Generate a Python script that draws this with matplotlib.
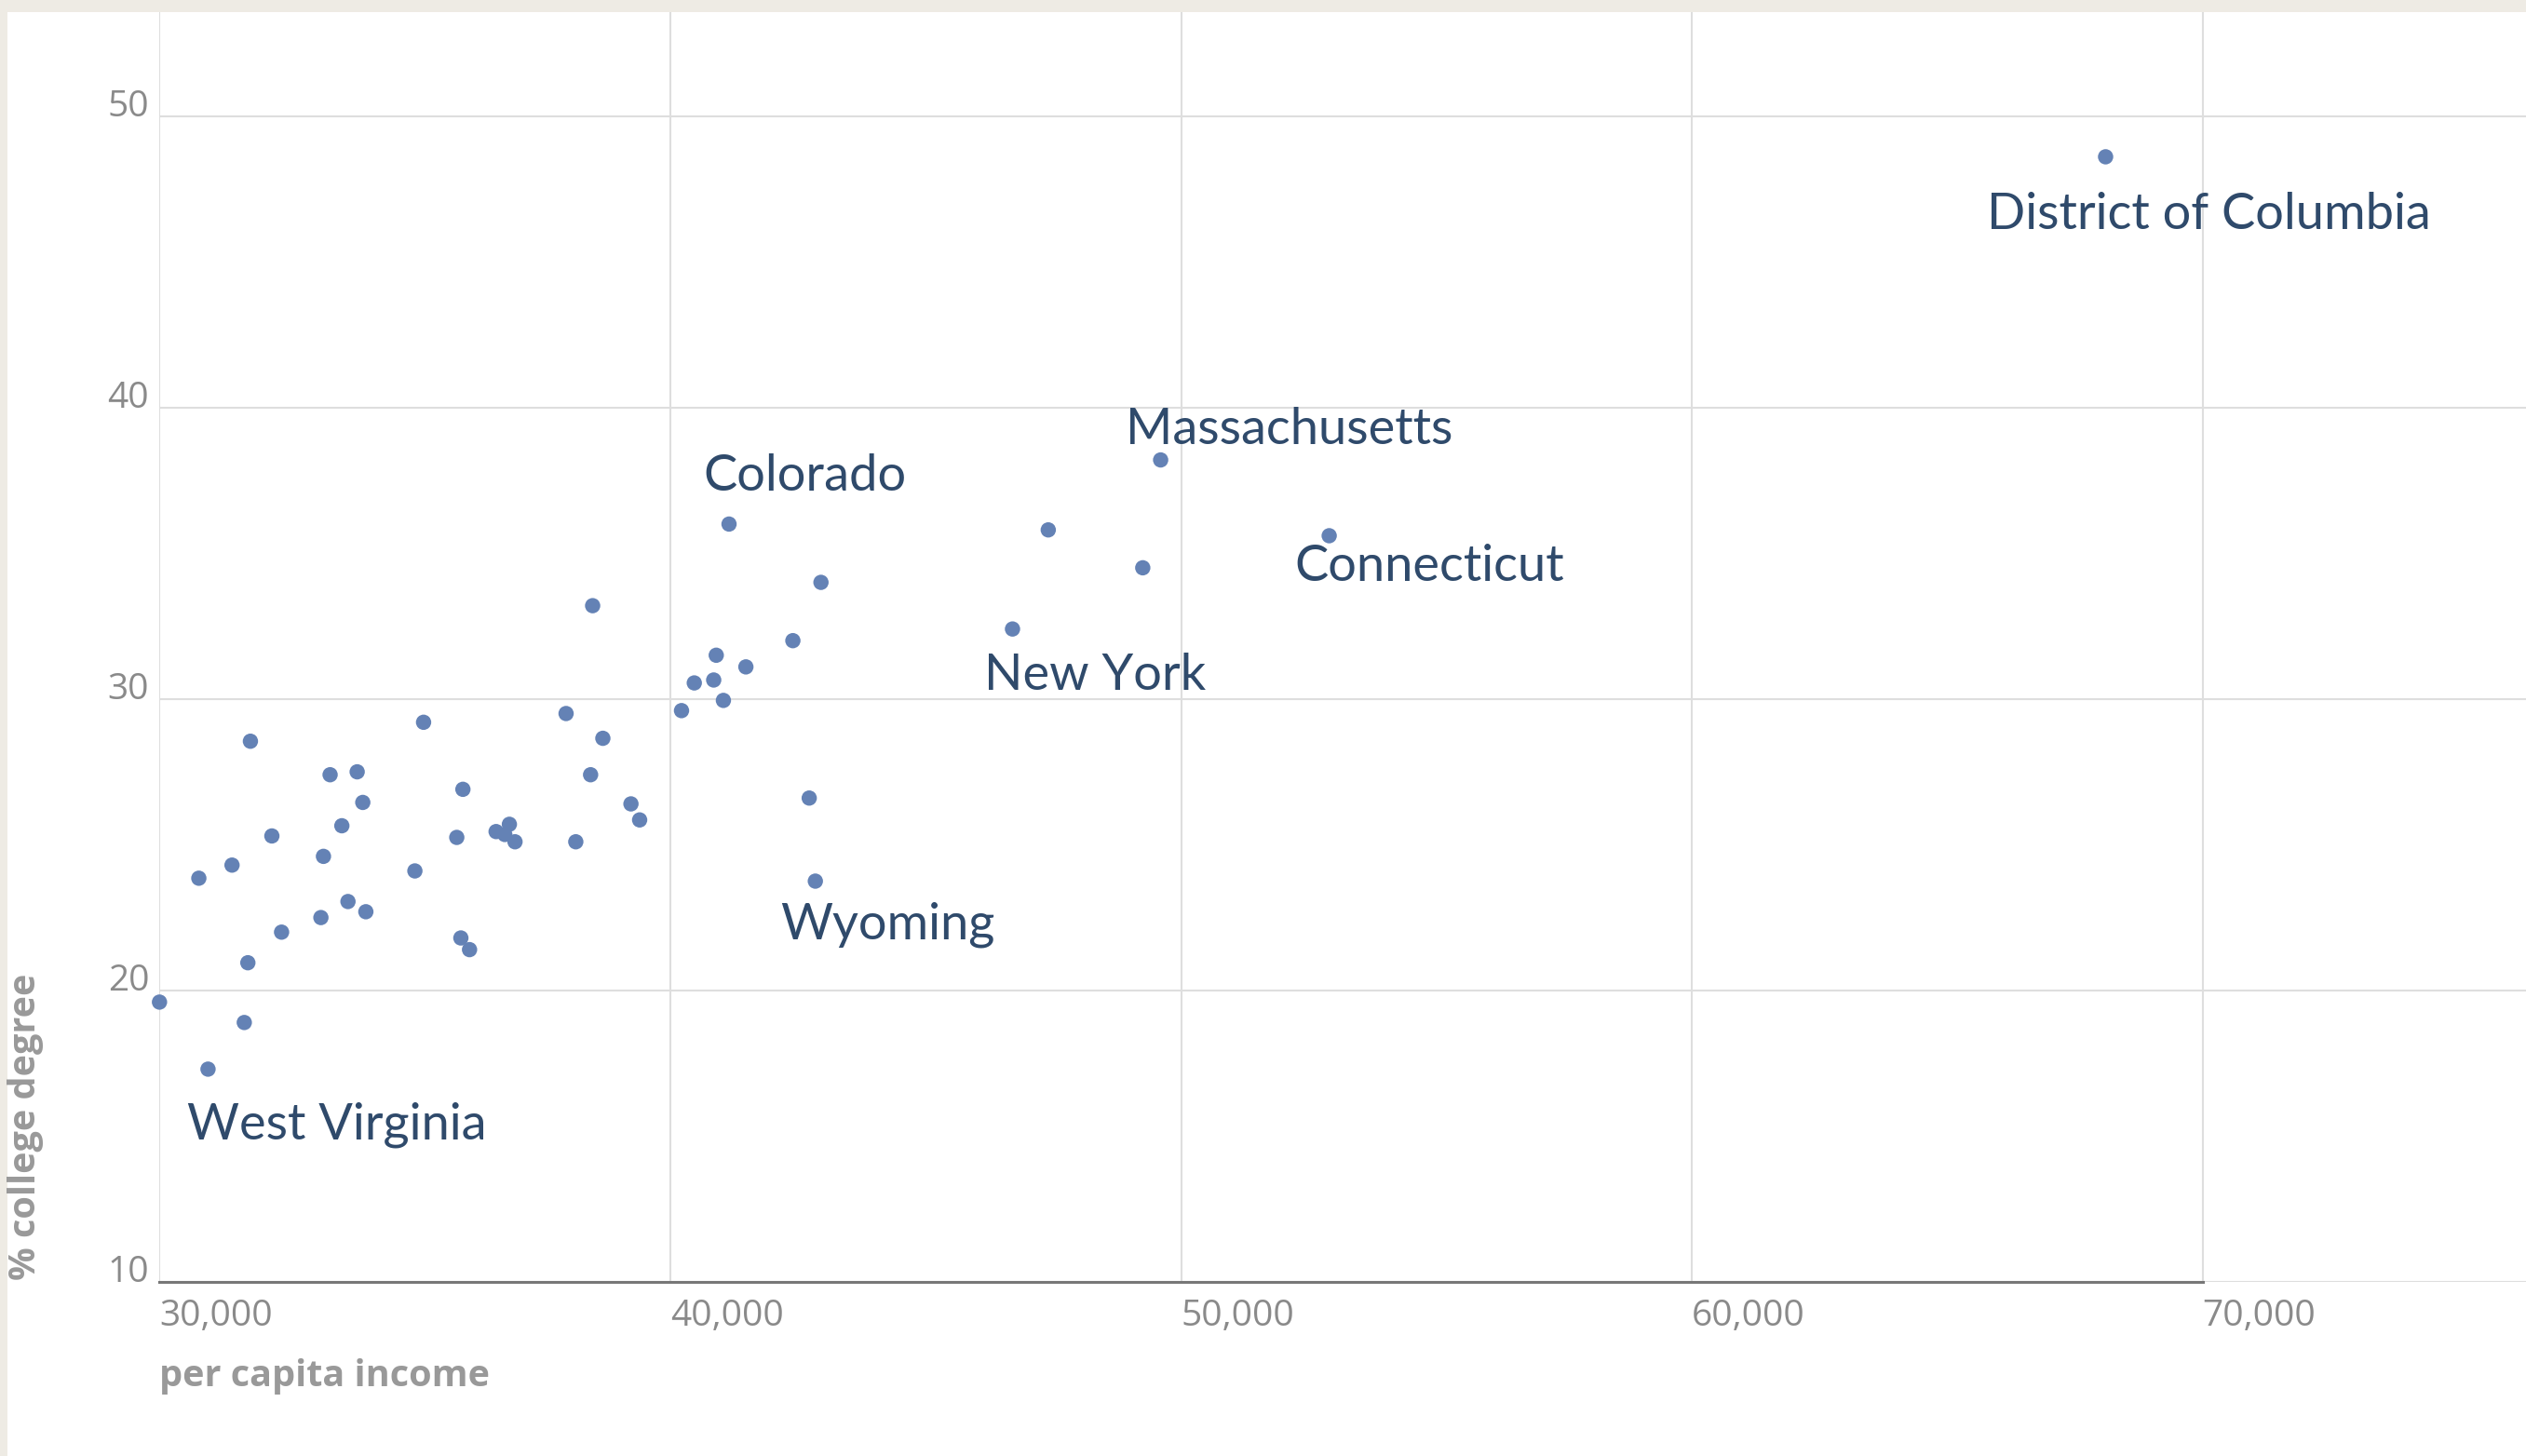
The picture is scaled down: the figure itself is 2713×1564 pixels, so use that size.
import matplotlib
matplotlib.use("Agg")
import matplotlib.pyplot as plt
from matplotlib.patches import Rectangle

# ---- data ----
income = [68100, 49600, 52900, 47400, 49250, 46700, 41150, 42950, 42400, 38480,
          40900, 41480, 40470, 40850, 41040, 40220, 37960, 38680, 35170, 31780,
          33340, 33870, 33980, 35940, 38440, 39230, 39400, 33570, 32200, 35820,
          36590, 36850, 36760, 36960, 38150, 33210, 31420, 30770, 35000, 42720,
          42840, 33690, 34040, 33160, 32390, 35900, 36070, 31730, 30000, 31660,
          30950]
college = [48.6, 38.2, 35.6, 35.8, 34.5, 32.4, 36.0, 34.0, 32.0, 33.2,
           31.5, 31.1, 30.55, 30.65, 29.95, 29.6, 29.5, 28.65, 29.2, 28.55,
           27.4, 27.5, 26.45, 26.9, 27.4, 26.4, 25.85, 25.65, 25.3, 25.25,
           25.45, 25.7, 25.35, 25.1, 25.1, 24.6, 24.3, 23.85, 24.1, 26.6,
           23.75, 23.05, 22.7, 22.5, 22.0, 21.8, 21.4, 20.95, 19.6, 18.9,
           17.3]
# labelled states: index into the arrays above, label text
label_idx = [0, 1, 2, 5, 6, 40, 50]
label_txt = ["District of Columbia", "Massachusetts", "Connecticut", "New York",
             "Colorado", "Wyoming", "West Virginia"]
# label offsets (points) relative to the point
label_off = [(-92, -56), (-27, 12), (-27, -35), (-22, -47), (-20, 26), (-27, -45), (-16, -54)]

x_ticks = [30000, 40000, 50000, 60000, 70000]
x_tick_labels = ["30,000", "40,000", "50,000", "60,000", "70,000"]
y_ticks = [10, 20, 30, 40, 50]
y_tick_labels = ["10", "20", "30", "40", "50"]

# ---- figure ----
W, H = 2713, 1564
fig = plt.figure(figsize=(W / 100, H / 100), dpi=100)
fig.patch.set_facecolor("#EEEBE4")
fig.add_artist(Rectangle((8 / W, 0), 1, 1 - 13 / H, transform=fig.transFigure,
                         facecolor="white", edgecolor="none", zorder=-5))

ax_left, ax_bottom_px, ax_top_px = 171.3, 1377, 13
ax = fig.add_axes([ax_left / W, (H - ax_bottom_px) / H, 1 - ax_left / W,
                   (ax_bottom_px - ax_top_px) / H])
ax.set_facecolor("none")

ax.set_xlim(30000, 30000 + (W - ax_left) / 54.86 * 1000)
ax.set_ylim(10, 10 + (ax_bottom_px - ax_top_px) / 31.31)

ax.grid(True, color="#dedede", linewidth=1.5)
ax.set_axisbelow(True)
for s in ["top", "right", "left"]:
    ax.spines[s].set_visible(False)
ax.spines["bottom"].set_bounds(30000, 70000)
ax.spines["bottom"].set_color("#777777")
ax.spines["bottom"].set_linewidth(2.2)
ax.spines["bottom"].set_zorder(3)

ax.set_xticks(x_ticks)
ax.set_xticklabels(x_tick_labels)
ax.set_yticks(y_ticks)
ax.set_yticklabels(y_tick_labels)
ax.tick_params(axis="both", length=0, labelsize=28, labelcolor="#8a8a8a")
ax.tick_params(axis="x", pad=13)
ax.tick_params(axis="y", pad=8)
for lab in ax.get_xticklabels():
    lab.set_ha("left")
    lab.set_family("Open Sans")
for lab in ax.get_yticklabels():
    lab.set_va("baseline")
    lab.set_family("Open Sans")

ax.scatter(income, college, s=140, color="#6482b5", edgecolors="none",
           zorder=4, clip_on=False)

for i, t, off in zip(label_idx, label_txt, label_off):
    ax.annotate(t, (income[i], college[i]), xytext=off, textcoords="offset points",
                ha="left", va="baseline", fontsize=39, family="Lato",
                color="#2f4a6b", zorder=5)

fig.text(ax_left / W, 1 - 1478 / H, "per capita income", ha="left", va="center",
         fontsize=28.5, fontweight="bold", color="#999999", family="Open Sans")
fig.text(28 / W, 1 - 1375 / H, "% college degree", ha="center", va="bottom",
         rotation=90, fontsize=28.5, fontweight="bold", color="#999999",
         family="Open Sans")

fig.savefig("out.png", dpi=100, facecolor=fig.get_facecolor())
